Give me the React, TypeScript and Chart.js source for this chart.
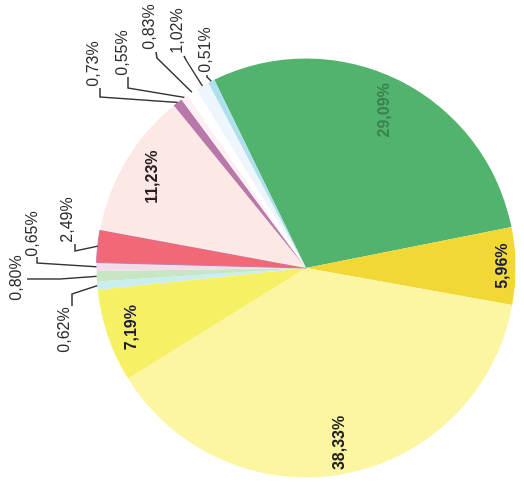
import React, { useEffect, useRef } from "react";
import { Chart, registerables } from "chart.js";

Chart.register(...registerables);

// ---- data ----
const categories = [
  "Part 1", "Part 2", "Part 3", "Part 4", "Part 5", "Part 6", "Part 7",
  "Part 8", "Part 9", "Part 10", "Part 11", "Part 12", "Part 13", "Part 14",
];
const values = [29.09, 5.96, 38.33, 7.19, 0.62, 0.8, 0.65, 2.49, 11.23, 0.73, 0.55, 0.83, 1.02, 0.51];
const sliceColors = [
  "#52b36e", "#f2d835", "#fcf6a2", "#f6f064", "#c9eef0", "#c6e6c4", "#f3dcea",
  "#f26877", "#fce9e5", "#b879aa", "#fdeff2", "#ffffff", "#eef6fb", "#aee0ee",
];
const sliceBorders = [
  "#52b36e", "#f2d835", "#fcf6a2", "#f6f064", "#c9eef0", "#c6e6c4", "#f3dcea",
  "#c07aa8", "#fce9e5", "#b879aa", "#fdeff2", "#ffffff", "#eef6fb", "#aee0ee",
];
const sliceBorderWidths = [0, 0, 0, 0, 0, 0, 0, 1, 0, 0, 0, 0, 0, 0];

const fmt = (v: number) => v.toFixed(2).replace(".", ",") + "%";

// ---- label layout (display frame = page after rotation) ----
const CANVAS_W = 495;
const CANVAS_H = 524;

const insideLabels = [
  { index: 0, r: 0.84, color: "#3a8250" },
  { index: 1, r: 0.94, color: "#1b1b45" },
  { index: 2, r: 0.85, color: "#222222" },
  { index: 3, r: 0.88, color: "#1b1b45" },
  { index: 8, r: 0.85, color: "#2a2020" },
];

const outsideLabels = [
  { index: 4, text: [65, 330], anchor: [72, 306], elbow: [72, 294] },
  { index: 5, text: [17, 278], anchor: [27, 279], elbow: [60, 279] },
  { index: 6, text: [33, 234], anchor: [37, 257], elbow: [37, 263] },
  { index: 7, text: [68, 220], anchor: [75, 244], elbow: [75, 251] },
  { index: 9, text: [94, 64], anchor: [100, 88], elbow: [100, 97] },
  { index: 10, text: [123, 53], anchor: [128, 77], elbow: [128, 88] },
  { index: 11, text: [150, 27], anchor: [156, 52], elbow: [157, 58] },
  { index: 12, text: [178, 31], anchor: [184, 56], elbow: [186, 60] },
  { index: 13, text: [206, 50], anchor: [207, 75], elbow: [207, 77] },
];

// display (x, y) -> canvas (u, v)
const toCanvas = (p: number[]) => [CANVAS_W - p[1], p[0]];

const labelPlugin = {
  id: "pieLabels",
  afterDatasetsDraw(chart: any) {
    const ctx = chart.ctx as CanvasRenderingContext2D;
    const meta = chart.getDatasetMeta(0);
    ctx.save();
    ctx.textAlign = "center";
    ctx.textBaseline = "middle";

    insideLabels.forEach((l) => {
      const arc = meta.data[l.index];
      const p = arc.getProps(["x", "y", "startAngle", "endAngle", "outerRadius"], true);
      const mid = (p.startAngle + p.endAngle) / 2;
      const x = p.x + Math.cos(mid) * p.outerRadius * l.r;
      const y = p.y + Math.sin(mid) * p.outerRadius * l.r;
      ctx.font = "bold 16px 'Liberation Sans', Arial, sans-serif";
      ctx.fillStyle = l.color;
      ctx.fillText(fmt(values[l.index]), x, y);
    });

    ctx.strokeStyle = "#333333";
    ctx.lineWidth = 1.4;
    outsideLabels.forEach((l) => {
      const arc = meta.data[l.index];
      const p = arc.getProps(["x", "y", "startAngle", "endAngle", "outerRadius"], true);
      const mid = (p.startAngle + p.endAngle) / 2;
      const ax = p.x + Math.cos(mid) * p.outerRadius;
      const ay = p.y + Math.sin(mid) * p.outerRadius;
      const e = toCanvas(l.elbow);
      const a = toCanvas(l.anchor);
      ctx.beginPath();
      ctx.moveTo(ax, ay);
      ctx.lineTo(e[0], e[1]);
      ctx.lineTo(a[0], a[1]);
      ctx.stroke();
      const t = toCanvas(l.text);
      ctx.font = "16px 'Liberation Sans', Arial, sans-serif";
      ctx.fillStyle = "#2e2e2e";
      ctx.fillText(fmt(values[l.index]), t[0], t[1]);
    });
    ctx.restore();
  },
};

export default function App() {
  const ref = useRef<HTMLCanvasElement>(null);
  useEffect(() => {
    document.body.style.overflow = "hidden";
    const chart = new Chart(ref.current as HTMLCanvasElement, {
      type: "pie",
      data: {
        labels: categories,
        datasets: [
          {
            data: values,
            backgroundColor: sliceColors,
            borderColor: sliceBorders,
            borderWidth: sliceBorderWidths,
          },
        ],
      },
      options: {
        responsive: false,
        animation: false,
        rotation: 64,
        layout: { padding: { left: 17, right: 58, top: 96, bottom: 8 } },
        plugins: { legend: { display: false }, tooltip: { enabled: false } },
      },
      plugins: [labelPlugin],
    } as any);
    return () => chart.destroy();
  }, []);
  return (
    <div
      style={{
        position: "absolute",
        left: 0,
        top: 0,
        width: CANVAS_W,
        height: CANVAS_H,
        transformOrigin: "0 0",
        transform: `translate(0px, ${CANVAS_W}px) rotate(-90deg)`,
      }}
    >
      <canvas ref={ref} width={CANVAS_W} height={CANVAS_H} style={{ display: "block" }} />
    </div>
  );
}
